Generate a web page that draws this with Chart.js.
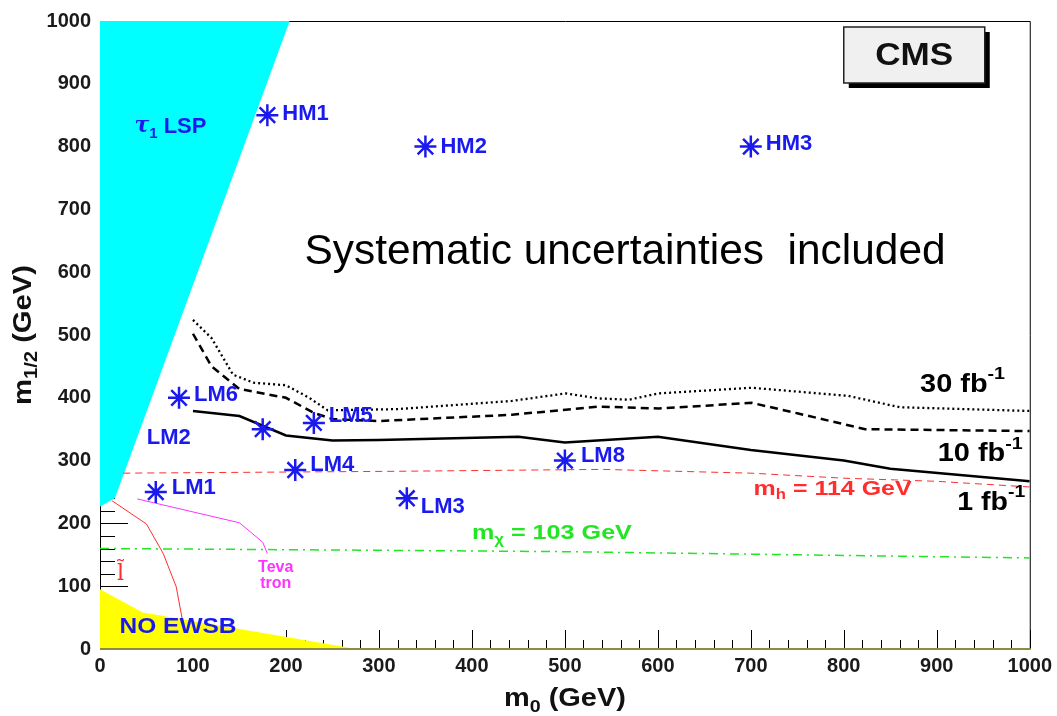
<!DOCTYPE html>
<html>
<head>
<meta charset="utf-8">
<title>CMS inclusive reach, m0 - m1/2 plane</title>
<script src="https://cdn.jsdelivr.net/npm/chart.js@4.4.1/dist/chart.umd.min.js"></script>
<style>
  html, body { margin: 0; padding: 0; background: #fff; }
  #reach { display: block; }
</style>
</head>
<body>
<canvas id="reach" width="1057" height="716"></canvas>
<script>
const FONT = '"Liberation Sans", Arial, Helvetica, sans-serif';

// tick labels on both axes (GeV)
const m0Ticks = [0, 100, 200, 300, 400, 500, 600, 700, 800, 900, 1000];
const m12Ticks = [0, 100, 200, 300, 400, 500, 600, 700, 800, 900, 1000];

// 5 sigma reach contours
const reach1fbM0 = [100, 150, 200, 250, 300, 450, 500, 600, 700, 800, 850, 1000];
const reach1fbM12 = [379, 371, 340, 332, 333, 338, 329, 338, 317, 300, 287, 267];
const reach10fbM0 = [100, 120, 150, 200, 230, 250, 300, 443, 536, 601, 701, 751, 823, 1000];
const reach10fbM12 = [502, 450, 414, 400, 376, 366, 363, 373, 386, 383, 392, 375, 350, 347];
const reach30fbM0 = [100, 120, 143, 165, 200, 225, 245, 320, 443, 501, 536, 569, 601, 701, 805, 860, 1000];
const reach30fbM12 = [524, 495, 437, 424, 420, 400, 380, 382, 395, 407, 399, 397, 407, 416, 403, 385, 379];

// constant-mass lines and exclusions
const higgsM0 = [25, 320, 540, 700, 800, 900, 1000];
const higgsM12 = [280, 283, 286, 280, 272, 267, 258];
const charginoM0 = [0, 320, 500, 1000];
const charginoM12 = [160, 157, 155, 145];
const sleptonM0 = [13, 50, 68, 82, 88, 90];
const sleptonM12 = [236, 199, 152, 99, 51, 37];
const tevatronM0 = [40, 150, 175, 180];
const tevatronM12 = [239, 201, 170, 152];

// theoretically excluded regions
const tauLspM0 = [0, 16, 204];
const tauLspM12 = [227, 240, 1000];
const noEwsbM0 = [0, 46, 276];
const noEwsbM12 = [95, 58, 0];

// benchmark points
const benchNames = ['LM1', 'LM2', 'LM3', 'LM4', 'LM5', 'LM6', 'LM8', 'HM1', 'HM2', 'HM3'];
const benchM0 = [60, 175, 330, 210, 230, 85, 500, 180, 350, 700];
const benchM12 = [250, 350, 240, 285, 360, 400, 300, 850, 800, 800];

// where each benchmark name sits next to its star (px)
const benchLabelShift = {
  LM1: [16, -4], LM2: [-116, 9], LM3: [14, 9], LM4: [15, -5], LM5: [15, -7],
  LM6: [15, -3], LM8: [16, -5], HM1: [15, -1], HM2: [15, 0], HM3: [15, -3]
};

const BLUE = '#1a1aee';
const RED = '#ff2d2d';
const GREEN = '#22e622';
const MAGENTA = '#ff33ff';

const pts = (xs, ys) => xs.map((v, i) => ({ x: v, y: ys[i] }));

function curve(xs, ys, color, width, dash, order) {
  return {
    data: pts(xs, ys),
    showLine: true,
    borderColor: color,
    borderWidth: width,
    borderDash: dash,
    pointRadius: 0,
    fill: false,
    tension: 0,
    order: order
  };
}

// text with sub/superscript pieces, optionally squeezed to a given width
function drawRich(ctx, runs, px, py, size, opt) {
  const weight = opt.weight || 'bold';
  const fontFor = r => `${r.italic ? 'italic ' : ''}${weight} ${r.sub || r.sup ? Math.round(size * 0.68) : size}px ${r.family || FONT}`;
  let total = 0;
  const widths = runs.map(r => {
    ctx.font = fontFor(r);
    const w = ctx.measureText(r.t).width;
    total += w;
    return w;
  });
  const sx = opt.width ? opt.width / total : 1;
  ctx.save();
  ctx.translate(px, py);
  if (opt.rotate) ctx.rotate(opt.rotate);
  ctx.scale(sx, 1);
  let cx = opt.align === 'center' ? -total / 2 : opt.align === 'right' ? -total : 0;
  ctx.fillStyle = opt.color || '#000';
  ctx.textAlign = 'left';
  ctx.textBaseline = 'middle';
  runs.forEach((r, i) => {
    ctx.font = fontFor(r);
    const dy = r.sub ? size * 0.32 : r.sup ? -size * 0.4 : 0;
    ctx.fillText(r.t, cx, dy);
    cx += widths[i];
  });
  ctx.restore();
}

// free text placed in (m0, m1/2) coordinates
const notes = [
  { runs: [{ t: 'Systematic uncertainties  included' }], m0: 220, m12: 631, size: 42, weight: 'normal', width: 641 },
  { runs: [{ t: 'τ', family: '"DejaVu Serif", serif', italic: true }, { t: '1', sub: true }, { t: ' LSP' }], m0: 37, m12: 832, size: 22, width: 72, color: BLUE },
  { runs: [{ t: '30 fb' }, { t: '-1', sup: true }], m0: 882, m12: 421, size: 25, width: 85 },
  { runs: [{ t: '10 fb' }, { t: '-1', sup: true }], m0: 901, m12: 310, size: 25, width: 85 },
  { runs: [{ t: '1 fb' }, { t: '-1', sup: true }], m0: 922, m12: 233, size: 25, width: 68 },
  { runs: [{ t: 'm' }, { t: 'h', sub: true }, { t: ' = 114 GeV' }], m0: 703, m12: 255, size: 21, width: 158, color: RED },
  { runs: [{ t: 'm' }, { t: 'χ', sub: true }, { t: ' = 103 GeV' }], m0: 400, m12: 184, size: 21, width: 160, color: GREEN },
  { runs: [{ t: 'Teva' }], m0: 189, m12: 130, size: 16, align: 'center', color: MAGENTA },
  { runs: [{ t: 'tron' }], m0: 189, m12: 104, size: 16, align: 'center', color: MAGENTA },
  { runs: [{ t: 'NO EWSB' }], m0: 21, m12: 35, size: 22, width: 117, color: BLUE },
  { runs: [{ t: 'l\u0303', family: '"DejaVu Serif", serif' }], m0: 22, m12: 119, size: 22, weight: 'normal', align: 'center', color: RED }
];

// axis frame and inward ticks, painted under the shaded regions
const framePlugin = {
  id: 'framePlugin',
  beforeDatasetsDraw(chart) {
    const { ctx, chartArea: a, scales: { x, y } } = chart;
    ctx.save();
    ctx.strokeStyle = '#000';
    ctx.lineWidth = 1;
    ctx.beginPath();
    for (let v = 0; v <= 1000; v += 20) {
      const px = Math.round(x.getPixelForValue(v)) + 0.5;
      ctx.moveTo(px, a.bottom);
      ctx.lineTo(px, a.bottom - (v % 100 === 0 ? 19 : 9));
      const py = Math.round(y.getPixelForValue(v)) + 0.5;
      ctx.moveTo(a.left, py);
      ctx.lineTo(a.left + (v % 100 === 0 ? 28 : 15), py);
    }
    ctx.moveTo(a.left + 0.5, a.bottom);
    ctx.lineTo(a.left + 0.5, a.top + 0.5);
    ctx.lineTo(a.right + 0.5, a.top + 0.5);
    ctx.lineTo(a.right + 0.5, a.bottom);
    ctx.stroke();
    ctx.restore();
  },
  afterDatasetsDraw(chart) {
    const { ctx, chartArea: a } = chart;
    ctx.save();
    ctx.strokeStyle = '#8c8c42';
    ctx.lineWidth = 2;
    ctx.beginPath();
    ctx.moveTo(a.left, a.bottom);
    ctx.lineTo(a.right + 1, a.bottom);
    ctx.stroke();
    ctx.restore();
  }
};

// labels, axis titles and the CMS box
const textPlugin = {
  id: 'textPlugin',
  afterDatasetsDraw(chart) {
    const { ctx, chartArea: a, scales: { x, y } } = chart;

    benchNames.forEach((name, i) => {
      const [dx, dy] = benchLabelShift[name];
      drawRich(ctx, [{ t: name }], x.getPixelForValue(benchM0[i]) + dx, y.getPixelForValue(benchM12[i]) + dy, 22, { color: BLUE });
    });

    notes.forEach(n => {
      drawRich(ctx, n.runs, x.getPixelForValue(n.m0), y.getPixelForValue(n.m12), n.size, n);
    });

    drawRich(ctx, [{ t: 'm' }, { t: '0', sub: true }, { t: ' (GeV)' }],
      x.getPixelForValue(500), a.bottom + 50, 25, { align: 'center', width: 122, color: '#111' });
    drawRich(ctx, [{ t: 'm' }, { t: '1/2', sub: true }, { t: ' (GeV)' }],
      24, y.getPixelForValue(500), 26, { align: 'center', width: 140, rotate: -Math.PI / 2, color: '#111' });

    const bx = a.right - 186, by = a.top + 6, bw = 141, bh = 56;
    ctx.save();
    ctx.fillStyle = '#000';
    ctx.fillRect(bx + 5, by + 5, bw, bh);
    ctx.fillStyle = '#f0f0f0';
    ctx.fillRect(bx, by, bw, bh);
    ctx.strokeStyle = '#222';
    ctx.lineWidth = 1.5;
    ctx.strokeRect(bx, by, bw, bh);
    ctx.restore();
    drawRich(ctx, [{ t: 'CMS' }], bx + bw / 2, by + bh / 2 + 1, 32, { align: 'center', width: 78, color: '#111' });
  }
};

const tickFont = { family: FONT, size: 20, weight: 'bold' };
const plainLabel = v => String(v);

new Chart(document.getElementById('reach'), {
  type: 'scatter',
  data: {
    datasets: [
      {
        data: pts(benchM0, benchM12),
        pointStyle: 'star',
        pointRadius: 11,
        pointBorderWidth: 2.5,
        borderColor: BLUE,
        backgroundColor: BLUE,
        showLine: false,
        order: 0
      },
      curve(reach1fbM0, reach1fbM12, '#000', 2.5, [], 1),
      curve(reach10fbM0, reach10fbM12, '#000', 2.5, [8, 5], 1),
      curve(reach30fbM0, reach30fbM12, '#000', 2.3, [2, 3], 1),
      curve(higgsM0, higgsM12, RED, 1, [7, 5], 2),
      curve(charginoM0, charginoM12, GREEN, 1.5, [9, 5, 2, 5], 2),
      curve(sleptonM0, sleptonM12, RED, 1, [], 2),
      curve(tevatronM0, tevatronM12, MAGENTA, 1, [], 2),
      {
        data: pts(tauLspM0, tauLspM12),
        showLine: true,
        borderWidth: 0,
        borderColor: 'rgba(0,0,0,0)',
        backgroundColor: '#00ffff',
        pointRadius: 0,
        fill: 'end',
        order: 5
      },
      {
        data: pts(noEwsbM0, noEwsbM12),
        showLine: true,
        borderWidth: 0,
        borderColor: 'rgba(0,0,0,0)',
        backgroundColor: '#ffff00',
        pointRadius: 0,
        fill: 'origin',
        order: 5
      }
    ]
  },
  options: {
    responsive: false,
    animation: false,
    devicePixelRatio: 1,
    layout: { padding: { top: 17, right: 25, left: 0, bottom: 0 } },
    plugins: { legend: { display: false }, tooltip: { enabled: false } },
    events: [],
    scales: {
      x: {
        type: 'linear',
        min: 0,
        max: 1000,
        afterBuildTicks: s => { s.ticks = m0Ticks.map(v => ({ value: v })); },
        afterFit: s => { s.height = 67; },
        grid: { display: false, drawTicks: false },
        border: { display: false },
        ticks: { font: tickFont, color: '#1a1a1a', padding: 5, maxRotation: 0, autoSkip: false, callback: plainLabel }
      },
      y: {
        type: 'linear',
        min: 0,
        max: 1000,
        afterBuildTicks: s => { s.ticks = m12Ticks.map(v => ({ value: v })); },
        afterFit: s => { s.width = 100; },
        grid: { display: false, drawTicks: false },
        border: { display: false },
        ticks: { font: tickFont, color: '#1a1a1a', padding: 9, autoSkip: false, callback: plainLabel }
      }
    }
  },
  plugins: [framePlugin, textPlugin]
});
</script>
</body>
</html>
